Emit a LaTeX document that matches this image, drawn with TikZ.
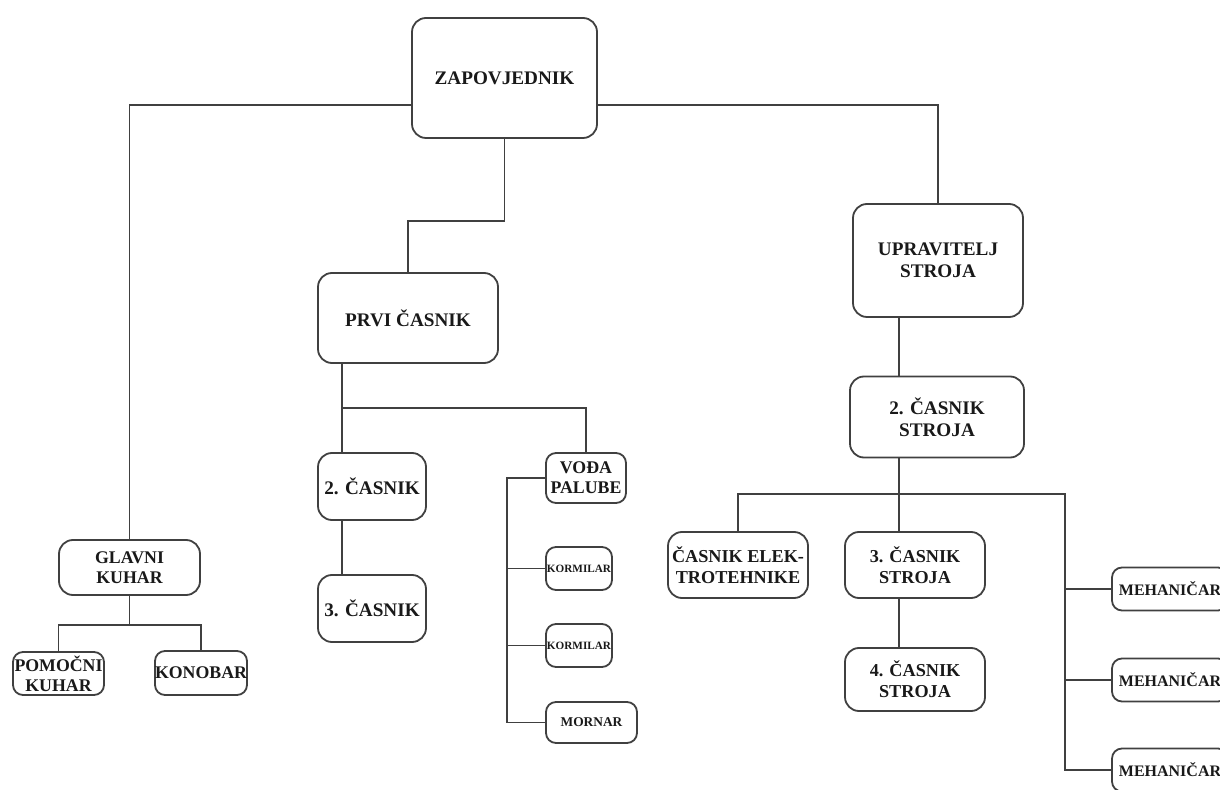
\documentclass[tikz,border=0pt]{standalone}
\usepackage{fontspec}
\setmainfont{Liberation Serif}
\usepackage{tikz}
\usetikzlibrary{positioning}

\begin{document}
\begin{tikzpicture}[x=0.5pt,y=-0.5pt,
    rank/.style={draw=black!75, line width=0.9pt, rounded corners=7pt, align=center, inner sep=0pt,
        text=black!90, font=\bfseries\fontsize{9.6}{11}\selectfont},
    crew/.style={rank, rounded corners=5pt},
    link/.style={draw=black!75, line width=0.9pt}]
    \useasboundingbox (0,0) rectangle (1220,790);

    % Command
    \node[rank, minimum width=92.5pt, minimum height=60pt] (zap) at (504.5,78) {ZAPOVJEDNIK};

    % Deck department
    \node[rank, minimum width=90pt, minimum height=45pt] (prvi) at (408,318) {PRVI ČASNIK};
    \node[rank, minimum width=54pt, minimum height=33.5pt] (c2) at (372,486.5) {2. ČASNIK};
    \node[rank, minimum width=54pt, minimum height=33.5pt] (c3) at (372,608.5) {3. ČASNIK};
    \node[crew, minimum width=40pt, minimum height=25pt, font=\bfseries\fontsize{8.9}{10}\selectfont] (voda) at (586,478) {VOĐA\\PALUBE};
    \node[crew, minimum width=33pt, minimum height=21.5pt, font=\bfseries\fontsize{5.6}{6}\selectfont] (k1) at (579,568.5) {KORMILAR};
    \node[crew, minimum width=33pt, minimum height=21.5pt, font=\bfseries\fontsize{5.6}{6}\selectfont] (k2) at (579,645.5) {KORMILAR};
    \node[crew, minimum width=45.5pt, minimum height=20.5pt, font=\bfseries\fontsize{6.7}{7}\selectfont] (mornar) at (591.5,722.5) {MORNAR};

    % Galley
    \node[rank, minimum width=70.5pt, minimum height=27.5pt, font=\bfseries\fontsize{8.9}{10}\selectfont] (glavni) at (129.5,567.5) {GLAVNI\\KUHAR};
    \node[crew, minimum width=45.5pt, minimum height=21.5pt, font=\bfseries\fontsize{8.9}{10}\selectfont] (pom) at (58.5,673.5) {POMOČNI\\KUHAR};
    \node[crew, minimum width=46pt, minimum height=22pt, font=\bfseries\fontsize{8.9}{10}\selectfont] (kon) at (201,673) {KONOBAR};

    % Engine department
    \node[rank, minimum width=85pt, minimum height=56.5pt] (uprav) at (938,260.5) {UPRAVITELJ\\STROJA};
    \node[rank, minimum width=87pt, minimum height=40.5pt] (c2s) at (937,417) {2. ČASNIK\\STROJA};
    \node[rank, minimum width=70pt, minimum height=33pt, font=\bfseries\fontsize{9.1}{10.5}\selectfont] (elek) at (738,565) {ČASNIK ELEK-\\TROTEHNIKE};
    \node[rank, minimum width=70pt, minimum height=33pt, font=\bfseries\fontsize{9.1}{10.5}\selectfont] (c3s) at (915,565) {3. ČASNIK\\STROJA};
    \node[rank, minimum width=70pt, minimum height=31.5pt, font=\bfseries\fontsize{9.1}{10.5}\selectfont] (c4s) at (915,679.5) {4. ČASNIK\\STROJA};
    \foreach \n/\y in {1/589,2/680,3/770} {
        \node[crew, minimum width=58pt, minimum height=21.5pt, font=\bfseries\fontsize{8}{9}\selectfont] (m\n) at (1170,\y) {MEHANIČAR};
    }

    % Top level links
    \draw[link] ([yshift=-13.5pt]zap.west) -| (glavni.north);
    \draw[link] ([yshift=-13.5pt]zap.east) -| (uprav.north);
    \draw[link] (zap.south) -- ++(0,82) -| (prvi.north);

    % Deck links
    \coordinate (p1) at ([xshift=12.5pt]prvi.south west);
    \draw[link] (p1) -- (p1 |- c2.north);
    \draw[link] (p1 |- c2.south) -- (p1 |- c3.north);
    \draw[link] (p1) ++(0,44) -| (voda.north);
    \coordinate (v1) at ([xshift=-19pt]voda.west);
    \draw[link] (voda.west) -- (v1) |- (mornar.west);
    \draw[link] (k1.west) -- (v1 |- k1.west);
    \draw[link] (k2.west) -- (v1 |- k2.west);

    % Galley links
    \draw[link] (glavni.south) -- ++(0,29) -| (pom.north);
    \draw[link] (glavni.south) ++(0,29) -| (kon.north);

    % Engine links
    \coordinate (u1) at ([xshift=23.5pt]uprav.south west);
    \draw[link] (u1) -- (u1 |- c2s.north);
    \draw[link] (u1 |- c2s.south) -- (u1 |- c3s.north);
    \draw[link] (u1 |- c3s.south) -- (u1 |- c4s.north);
    \path (u1 |- c2s.south) ++(0,36) coordinate (sbus);
    \coordinate (mspine) at ([xshift=-23pt]m1.west);
    \draw[link] (elek.north) |- (sbus) -| (mspine) |- (m3.west);
    \draw[link] (mspine) -- (m1.west);
    \draw[link] (m2.west) -- (mspine |- m2.west);
\end{tikzpicture}
\end{document}
